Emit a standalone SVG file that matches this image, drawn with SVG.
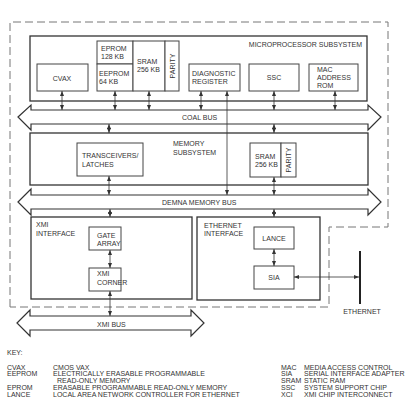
<svg xmlns="http://www.w3.org/2000/svg" width="405" height="400" viewBox="0 0 405 400">
<style>
text{font-family:"Liberation Sans",Arial,sans-serif;font-size:7px;fill:#333}
.box{fill:#fff;stroke:#444;stroke-width:1}
.big{fill:none;stroke:#333;stroke-width:1.3}
.bus{fill:#fff;stroke:#333;stroke-width:1.2}
.dash{fill:none;stroke:#777;stroke-width:1;stroke-dasharray:8 4}
.c{fill:none;stroke:#333;stroke-width:0.8;marker-start:url(#ah);marker-end:url(#ah)}
.c1{fill:none;stroke:#333;stroke-width:0.8}
.m{text-anchor:middle}
.e{text-anchor:end}
</style>
<defs>
<marker id="ah" markerUnits="userSpaceOnUse" markerWidth="5" markerHeight="4" refX="5" refY="2" orient="auto-start-reverse">
<path d="M0,0 L5,2 L0,4 z" fill="#333"/>
</marker>
</defs>
<rect width="405" height="400" fill="#fff"/>
<path class="dash" d="M10,307 L10,22 L388,22 L388,227 L329,227 L329,307 Z"/>

<g id="microprocessor-subsystem">
<rect class="big" x="30" y="36" width="337" height="65"/>
<text class="e" x="362" y="47">MICROPROCESSOR SUBSYSTEM</text>
</g>
<g id="cvax"><rect class="box" x="37" y="64" width="51" height="27"/><text class="m" x="62" y="80.5">CVAX</text></g>
<g id="eprom"><rect class="box" x="97" y="41" width="36" height="23"/><text x="101" y="51">EPROM</text><text x="101" y="59">128 KB</text></g>
<g id="eeprom"><rect class="box" x="97" y="64" width="36" height="27"/><text x="99" y="76">EEPROM</text><text x="99" y="84">64 KB</text></g>
<g id="sram1"><rect class="box" x="133" y="41" width="32" height="50"/><text x="137" y="64">SRAM</text><text x="137" y="72">256 KB</text></g>
<g id="parity1"><rect class="box" x="165" y="41" width="14" height="50"/><text class="m" transform="translate(174.5,66) rotate(-90)">PARITY</text></g>
<g id="diagnostic"><rect class="box" x="189" y="64" width="51" height="27"/><text x="192" y="76">DIAGNOSTIC</text><text x="192" y="84">REGISTER</text></g>
<g id="ssc"><rect class="box" x="249" y="64" width="50" height="27"/><text class="m" x="274" y="80">SSC</text></g>
<g id="mac"><rect class="box" x="309" y="64" width="49" height="27"/><text x="317" y="72">MAC</text><text x="317" y="80">ADDRESS</text><text x="317" y="88">ROM</text></g>

<g id="coal-bus">
<path class="bus" d="M18,117 L31,105 L31,110 L368,110 L368,105 L381,117 L368,130 L368,124 L31,124 L31,130 Z"/>
<text x="182" y="119.5">COAL BUS</text>
</g>

<g id="memory-subsystem">
<rect class="big" x="30" y="133" width="338" height="52"/>
<text x="173" y="145.5">MEMORY</text><text x="173" y="154.5">SUBSYSTEM</text>
</g>
<g id="transceivers"><rect class="box" x="77" y="143" width="66" height="33"/><text x="82" y="158">TRANSCEIVERS/</text><text x="82" y="167">LATCHES</text></g>
<g id="sram2"><rect class="box" x="250" y="143" width="31" height="34"/><text x="255" y="158.5">SRAM</text><text x="255" y="166.5">256 KB</text></g>
<g id="parity2"><rect class="box" x="281" y="143" width="15" height="34"/><text class="m" transform="translate(290.5,160) rotate(-90)">PARITY</text></g>

<g id="demna-bus">
<path class="bus" d="M18,202 L31,189 L31,195 L368,195 L368,189 L381,202 L368,215 L368,209 L31,209 L31,215 Z"/>
<text x="162" y="204.5">DEMNA MEMORY BUS</text>
</g>

<g id="xmi-interface">
<rect class="big" x="31" y="217" width="161" height="82"/>
<text x="36" y="226.5">XMI</text><text x="36" y="235.5">INTERFACE</text>
</g>
<g id="gate-array"><rect class="box" x="89" y="227" width="32" height="23"/><text x="97" y="237.5">GATE</text><text x="97" y="245.5">ARRAY</text></g>
<g id="xmi-corner"><rect class="box" x="89" y="268" width="32" height="23"/><text x="97" y="275.5">XMI</text><text x="97" y="284.5">CORNER</text></g>

<g id="ethernet-interface">
<rect class="big" x="197" y="217" width="123" height="83"/>
<text x="204" y="227.5">ETHERNET</text><text x="204" y="235.5">INTERFACE</text>
</g>
<g id="lance"><rect class="box" x="254" y="227" width="40" height="22"/><text class="m" x="274" y="240.5">LANCE</text></g>
<g id="sia"><rect class="box" x="254" y="266" width="40" height="23"/><text class="m" x="274" y="280">SIA</text></g>

<g id="ethernet">
<line x1="360" y1="251" x2="360" y2="304" stroke="#222" stroke-width="2"/>
<text class="m" x="362" y="313.5">ETHERNET</text>
</g>

<g id="xmi-bus">
<path class="bus" d="M17,323 L30,310 L30,316 L191,316 L191,310 L204,323 L191,336 L191,330 L30,330 L30,336 Z"/>
<text x="97" y="326.5">XMI BUS</text>
</g>

<g id="connectors">
<line class="c" x1="62" y1="91" x2="62" y2="110"/>
<line class="c" x1="115" y1="91" x2="115" y2="110"/>
<line class="c" x1="149" y1="91" x2="149" y2="110"/>
<line class="c" x1="201" y1="91" x2="201" y2="110"/>
<line class="c" x1="227" y1="91" x2="227" y2="195"/>
<line class="c" x1="274" y1="91" x2="274" y2="110"/>
<line class="c" x1="335" y1="91" x2="335" y2="110"/>
<line class="c" x1="109" y1="124" x2="109" y2="133"/>
<line class="c" x1="274" y1="124" x2="274" y2="133"/>
<line class="c" x1="109" y1="176" x2="109" y2="195"/>
<line class="c" x1="274" y1="177" x2="274" y2="195"/>
<line class="c" x1="110" y1="209" x2="110" y2="217"/>
<line class="c" x1="274" y1="209" x2="274" y2="217"/>
<line class="c" x1="110" y1="250" x2="110" y2="268"/>
<line class="c" x1="110" y1="291" x2="110" y2="316"/>
<line class="c" x1="274" y1="249" x2="274" y2="266"/>
<line class="c" x1="294" y1="277" x2="359" y2="277"/>
</g>

<g id="key">
<text x="7" y="355">KEY:</text>
<text x="7" y="369.5">CVAX</text><text x="53" y="369.5">CMOS VAX</text>
<text x="7" y="376">EEPROM</text><text x="53" y="376">ELECTRICALLY ERASABLE PROGRAMMABLE</text>
<text x="57" y="382.5">READ-ONLY MEMORY</text>
<text x="7" y="389.5">EPROM</text><text x="53" y="389.5">ERASABLE PROGRAMMABLE READ-ONLY MEMORY</text>
<text x="7" y="396.5">LANCE</text><text x="53" y="396.5">LOCAL AREA NETWORK CONTROLLER FOR ETHERNET</text>
<text x="281" y="369.5">MAC</text><text x="304" y="369.5">MEDIA ACCESS CONTROL</text>
<text x="281" y="376">SIA</text><text x="304" y="376">SERIAL INTERFACE ADAPTER</text>
<text x="281" y="382.5">SRAM</text><text x="304" y="382.5">STATIC RAM</text>
<text x="281" y="389.5">SSC</text><text x="304" y="389.5">SYSTEM SUPPORT CHIP</text>
<text x="281" y="396.5">XCI</text><text x="304" y="396.5">XMI CHIP INTERCONNECT</text>
</g>
</svg>
